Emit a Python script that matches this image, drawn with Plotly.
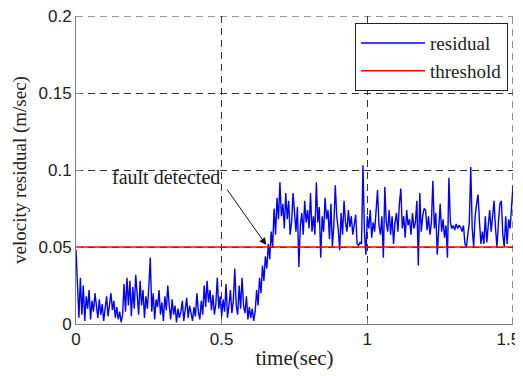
import numpy as np
import plotly.graph_objects as go

dt = 0.005
residual = [
    0.048, 0.028, 0.004, 0.030, 0.006, 0.025, 0.002, 0.018, 0.010, 0.022,
    0.003, 0.015, 0.008, 0.020, 0.012, 0.004, 0.016, 0.006, 0.013, 0.002,
    0.010, 0.018, 0.005, 0.012, 0.020, 0.009, 0.015, 0.004, 0.011, 0.003,
    0.008, 0.001, 0.006, 0.026, 0.008, 0.030, 0.012, 0.028, 0.005, 0.024,
    0.010, 0.032, 0.015, 0.006, 0.028, 0.012, 0.022, 0.004, 0.018, 0.010,
    0.024, 0.043, 0.008, 0.020, 0.003, 0.016, 0.011, 0.022, 0.006, 0.014,
    0.002, 0.018, 0.009, 0.025, 0.012, 0.003, 0.016, 0.006, 0.012, 0.001,
    0.010, 0.004, 0.008, 0.015, 0.002, 0.009, 0.017, 0.004, 0.012, 0.007,
    0.002, 0.011, 0.005, 0.020, 0.008, 0.003, 0.015, 0.006, 0.025, 0.011,
    0.028, 0.014, 0.022, 0.009, 0.019, 0.006, 0.013, 0.030, 0.010, 0.018,
    0.005, 0.016, 0.008, 0.026, 0.004, 0.012, 0.022, 0.007, 0.015, 0.036,
    0.012, 0.006, 0.025, 0.010, 0.030, 0.012, 0.007, 0.018, 0.003, 0.011,
    0.004, 0.010, 0.002, 0.008, 0.022, 0.012, 0.030, 0.020, 0.038, 0.028,
    0.044, 0.036, 0.052, 0.042, 0.060, 0.050, 0.075, 0.058, 0.082, 0.068,
    0.092, 0.070, 0.078, 0.062, 0.085, 0.068, 0.080, 0.058, 0.066, 0.085,
    0.070, 0.060, 0.076, 0.037, 0.064, 0.072, 0.058, 0.080, 0.066, 0.074,
    0.062, 0.085, 0.060, 0.070, 0.058, 0.092, 0.066, 0.076, 0.043, 0.070,
    0.060, 0.082, 0.068, 0.074, 0.055, 0.078, 0.050, 0.064, 0.090, 0.070,
    0.062, 0.048, 0.072, 0.058, 0.080, 0.066, 0.060, 0.074, 0.063, 0.070,
    0.058, 0.066, 0.071, 0.052, 0.051, 0.053, 0.052, 0.103, 0.060, 0.045,
    0.070, 0.062, 0.074, 0.056, 0.066, 0.060, 0.072, 0.087, 0.064, 0.058,
    0.070, 0.043, 0.089, 0.066, 0.060, 0.074, 0.058, 0.070, 0.052, 0.066,
    0.072, 0.060, 0.078, 0.088, 0.062, 0.070, 0.056, 0.074, 0.064, 0.068,
    0.058, 0.072, 0.062, 0.066, 0.080, 0.038, 0.085, 0.060, 0.070, 0.075,
    0.074, 0.061, 0.070, 0.058, 0.066, 0.093, 0.062, 0.072, 0.045, 0.066,
    0.078, 0.060, 0.068, 0.056, 0.064, 0.043, 0.095, 0.066, 0.062, 0.064,
    0.061, 0.065, 0.062, 0.064, 0.063, 0.060, 0.064, 0.052, 0.050, 0.058,
    0.066, 0.102, 0.062, 0.050, 0.070, 0.078, 0.084, 0.066, 0.052, 0.060,
    0.052, 0.070, 0.053, 0.064, 0.074, 0.060, 0.070, 0.080, 0.062, 0.050,
    0.066, 0.078, 0.080, 0.058, 0.050, 0.070, 0.052, 0.068, 0.062, 0.074,
    0.090,
]
time = [round(i * dt, 4) for i in range(len(residual))]
threshold_value = 0.05
threshold_t = [0.0, 1.5]
threshold = [threshold_value, threshold_value]

x_ticks = [0, 0.5, 1, 1.5]
x_labels = ["0", "0.5", "1", "1.5\u00a0\u00a0"]
y_ticks = [0, 0.05, 0.1, 0.15, 0.2]
y_labels = ["0", "0.05", "0.1", "0.15", "0.2"]

serif = "Liberation Serif, Times New Roman, serif"
sans = "Liberation Sans, Arial, sans-serif"
grid_color = "#333333"
grid_dash = "7px,5px"

fig = go.Figure()
fig.add_trace(go.Scatter(x=time, y=residual, mode="lines", name="residual",
                         line=dict(color="#0000ff", width=1.4)))
fig.add_trace(go.Scatter(x=threshold_t, y=threshold, mode="lines", name="threshold",
                         line=dict(color="#ff0000", width=1.5)))

axis_common = dict(
    showline=True, linecolor="#808080", linewidth=1,
    ticks="inside", ticklen=5, tickcolor="#808080",
    showgrid=True, gridcolor=grid_color, gridwidth=1.1, griddash=grid_dash,
    zeroline=False, layer="above traces", automargin=False,
    ticklabeloverflow="allow",
    tickfont=dict(family=sans, size=17, color="#222222"),
)

fig.update_layout(
    template="none",
    width=515, height=368,
    margin=dict(l=68, r=10, t=8, b=52),
    paper_bgcolor="white", plot_bgcolor="white",
    xaxis=dict(range=[0, 1.5], tickvals=x_ticks, ticktext=x_labels,
               title=dict(text="time(sec)", font=dict(family=serif, size=21, color="#222222"), standoff=1),
               **axis_common),
    yaxis=dict(range=[0, 0.2], tickvals=y_ticks, ticktext=y_labels,
               title=dict(text="velocity residual (m/sec)", font=dict(family=serif, size=19, color="#222222"), standoff=6),
               **axis_common),
    legend=dict(x=0.9886, y=0.977, xanchor="right", yanchor="top",
                bgcolor="white", bordercolor="#222222", borderwidth=1,
                font=dict(family=serif, size=19, color="#222222"),
                itemwidth=64, tracegroupgap=0),
    showlegend=True,
)

# dashed grid lines on the top (y = 0.2) and right (x = 1.5) edges
fig.add_shape(type="line", xref="x", yref="paper", x0=1.5, x1=1.5, y0=0, y1=1,
              line=dict(color=grid_color, width=1.1, dash=grid_dash), layer="above")
fig.add_shape(type="line", xref="paper", yref="y", x0=0, x1=1, y0=0.2, y1=0.2,
              line=dict(color=grid_color, width=1.1, dash=grid_dash), layer="above")

fig.add_annotation(x=0.653, y=0.0513, ax=0.515, ay=0.0883, xref="x", yref="y",
                   axref="x", ayref="y", text="", showarrow=True,
                   arrowhead=2, arrowsize=1.4, arrowwidth=1, arrowcolor="#111111")
fig.add_annotation(x=0.309, y=0.0955, xref="x", yref="y", text="fault detected",
                   showarrow=False, font=dict(family=serif, size=20, color="#222222"))

fig.write_html("out.html")
